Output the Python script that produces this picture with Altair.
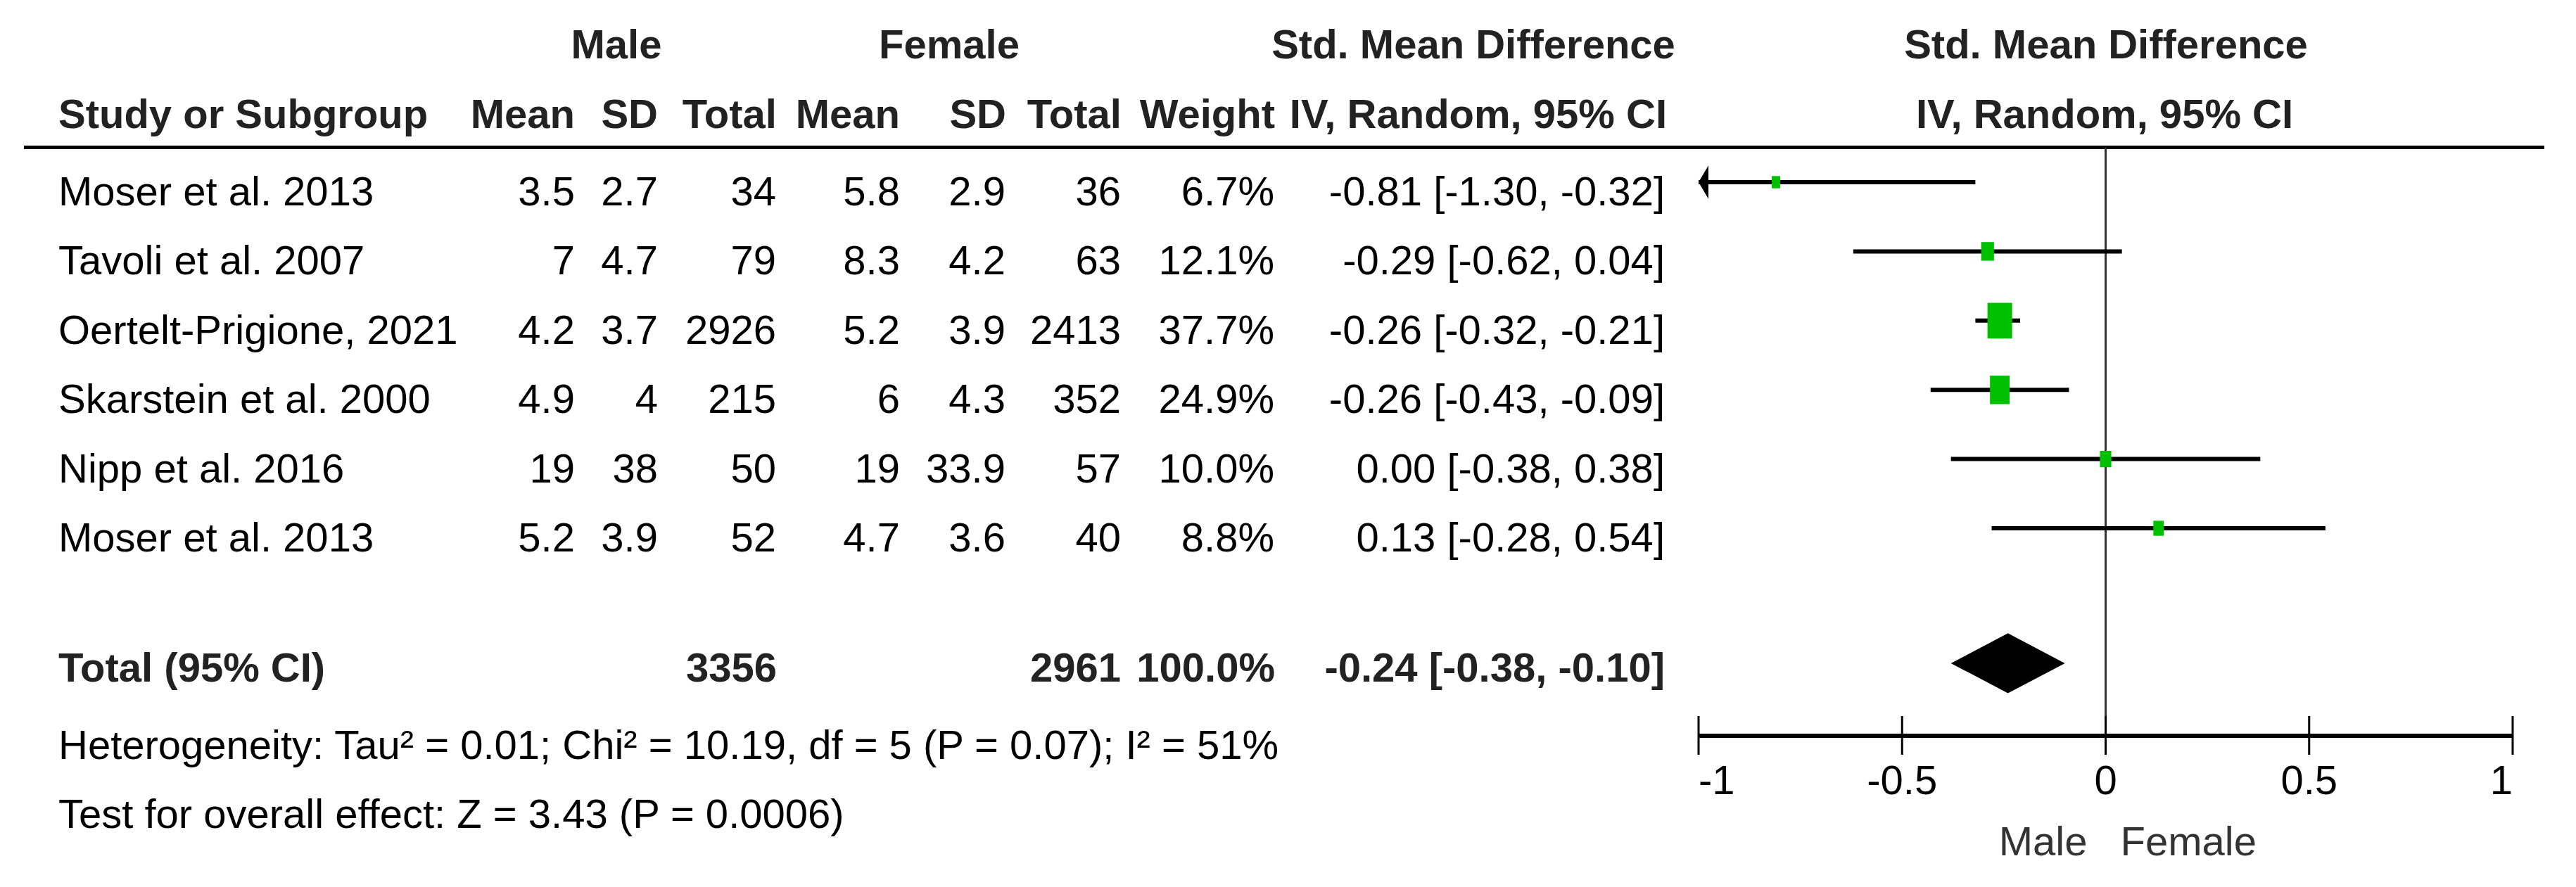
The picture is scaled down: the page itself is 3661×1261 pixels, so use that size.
import altair as alt
import pandas as pd

# ---------------- data ----------------
studies = ["Moser et al. 2013", "Tavoli et al. 2007", "Oertelt-Prigione, 2021",
           "Skarstein et al. 2000", "Nipp et al. 2016", "Moser et al. 2013"]
male_mean = [3.5, 7, 4.2, 4.9, 19, 5.2]
male_sd = [2.7, 4.7, 3.7, 4, 38, 3.9]
male_total = [34, 79, 2926, 215, 50, 52]
female_mean = [5.8, 8.3, 5.2, 6, 19, 4.7]
female_sd = [2.9, 4.2, 3.9, 4.3, 33.9, 3.6]
female_total = [36, 63, 2413, 352, 57, 40]
weight = [6.7, 12.1, 37.7, 24.9, 10.0, 8.8]
smd = [-0.81, -0.29, -0.26, -0.26, 0.00, 0.13]
ci_lo = [-1.30, -0.62, -0.32, -0.43, -0.38, -0.28]
ci_hi = [-0.32, 0.04, -0.21, -0.09, 0.38, 0.54]

total_label = "Total (95% CI)"
total_male = 3356
total_female = 2961
total_weight = 100.0
total_smd = -0.24
total_lo = -0.38
total_hi = -0.10
heterogeneity = "Heterogeneity: Tau\u00b2 = 0.01; Chi\u00b2 = 10.19, df = 5 (P = 0.07); I\u00b2 = 51%"
overall_effect = "Test for overall effect: Z = 3.43 (P = 0.0006)"

tick_values = [-1, -0.5, 0, 0.5, 1]
favours = ["Male", "Female"]

# ---------------- styling / layout ----------------
FONT = "Liberation Sans, Arial, sans-serif"
FS = 58
W, H = 3640, 1238
SH = 6               # raise baselines so text centres match the reference
TXT_DY = 39 - SH     # text baseline below the marker centre line
GREEN = "#00c000"
HDR = "#222222"


def g(v):
    return f"{v:g}"


def ci_text(e, lo, hi):
    return f"{e:.2f} [{lo:.2f}, {hi:.2f}]"


df = pd.DataFrame({
    "row": list(range(1, len(studies) + 1)),
    "study": studies,
    "mm": [g(v) for v in male_mean],
    "msd": [g(v) for v in male_sd],
    "mt": [g(v) for v in male_total],
    "fm": [g(v) for v in female_mean],
    "fsd": [g(v) for v in female_sd],
    "ft": [g(v) for v in female_total],
    "w": weight,
    "wt": [f"{v:.1f}%" for v in weight],
    "smd": smd,
    "lo": ci_lo,
    "hi": ci_hi,
    "ci": [ci_text(e, l, h) for e, l, h in zip(smd, ci_lo, ci_hi)],
})
df["lo_c"] = df["lo"].clip(lower=min(tick_values))

xscale = alt.Scale(domain=[min(tick_values), max(tick_values)], range=[2406, 3563], nice=False, zero=False)
yscale = alt.Scale(domain=[1, 6], range=[251, 743], nice=False, zero=False)


def X(f):
    return alt.X(f, type="quantitative", scale=xscale, axis=None)


def Y(f):
    return alt.Y(f, type="quantitative", scale=yscale, axis=None)


blank = pd.DataFrame({"k": [0]})
layers = []

# thick header rule
layers.append(alt.Chart(blank).mark_rule(color="black", strokeWidth=5).encode(
    x=alt.value(26), x2=alt.value(3608), y=alt.value(201.5)))

# line of no effect
layers.append(alt.Chart(pd.DataFrame({"x": [0]})).mark_rule(color="#333333", strokeWidth=3).encode(
    x=X("x"), y=alt.value(201.5), y2=alt.value(1038)))

# confidence intervals
layers.append(alt.Chart(df).mark_rule(color="black", strokeWidth=6).encode(
    x=X("lo_c"), x2=alt.X2("hi"), y=Y("row")))

# arrow where CI leaves the axis
ARROW = "M0,0L2,-3.4L2,3.4Z"
layers.append(alt.Chart(df).transform_filter(f"datum.lo < {min(tick_values)}").mark_point(
    shape=ARROW, filled=True, size=196, color="black", opacity=1, strokeWidth=0).encode(
    x=X("lo_c"), y=Y("row")))

# weighted boxes
RECT = "M-1,-1.45L1,-1.45L1,1.45L-1,1.45Z"
layers.append(alt.Chart(df).mark_point(shape=RECT, filled=True, color=GREEN, opacity=1, strokeWidth=0).encode(
    x=X("smd"), y=Y("row"),
    size=alt.Size("w", type="quantitative",
                  scale=alt.Scale(domain=[6.7, 37.7], range=[144, 1225], zero=False, nice=False),
                  legend=None)))

# pooled diamond
r_tot = 7.95
half = 0.432
dia = pd.DataFrame({"x": [total_lo, total_smd, total_hi],
                    "y": [r_tot, r_tot - half, r_tot],
                    "y2": [r_tot, r_tot + half, r_tot]})
layers.append(alt.Chart(dia).mark_area(color="black", orient="vertical", opacity=1).encode(
    x=X("x"), y=Y("y"), y2=alt.Y2("y2")))

# manual axis
tdf = pd.DataFrame({"t": tick_values, "lab": [g(v) for v in tick_values]})
adf = pd.DataFrame({"a": [min(tick_values)], "b": [max(tick_values)]})
layers.append(alt.Chart(adf).mark_rule(color="black", strokeWidth=6).encode(
    x=X("a"), x2=alt.X2("b"), y=alt.value(1038)))
layers.append(alt.Chart(tdf).mark_rule(color="black", strokeWidth=3).encode(
    x=X("t"), y=alt.value(1010), y2=alt.value(1065)))
lo_t, hi_t = min(tick_values), max(tick_values)
for flt, al in [(f"datum.t == {lo_t}", "left"), (f"datum.t == {hi_t}", "right"),
                (f"datum.t != {lo_t} && datum.t != {hi_t}", "center")]:
    layers.append(alt.Chart(tdf).transform_filter(flt).mark_text(
        align=al, baseline="alphabetic", font=FONT, fontSize=FS, color="black").encode(
        x=X("t"), y=alt.value(1127 - SH), text=alt.Text("lab", type="nominal")))

fav = pd.DataFrame({"x": [0]})
layers.append(alt.Chart(fav).mark_text(text=favours[0], align="right", dx=-26, baseline="alphabetic",
                                       font=FONT, fontSize=FS, color="#333333").encode(
    x=X("x"), y=alt.value(1214 - SH)))
layers.append(alt.Chart(fav).mark_text(text=favours[1], align="left", dx=21, baseline="alphabetic",
                                       font=FONT, fontSize=FS, color="#333333").encode(
    x=X("x"), y=alt.value(1214 - SH)))

# study table columns
cols = [("study", 75, "left"), ("mm", 809, "right"), ("msd", 927, "right"), ("mt", 1095, "right"),
        ("fm", 1271, "right"), ("fsd", 1421, "right"), ("ft", 1585, "right"),
        ("wt", 1803, "right"), ("ci", 2358, "right")]
for field, xp, al in cols:
    layers.append(alt.Chart(df).mark_text(align=al, baseline="alphabetic", dy=TXT_DY, font=FONT,
                                          fontSize=FS, color="black").encode(
        x=alt.value(xp), y=Y("row"), text=alt.Text(field, type="nominal")))


def fixed_text(t, xp, yp, al, bold=False, color="black"):
    return alt.Chart(blank).mark_text(text=t, align=al, baseline="alphabetic", font=FONT, fontSize=FS,
                                      fontWeight="bold" if bold else "normal", color=color).encode(
        x=alt.value(xp), y=alt.value(yp - SH))


# headers
headers1 = [("Male", 868, "center"), ("Female", 1341, "center"),
            ("Std. Mean Difference", 2086, "center"), ("Std. Mean Difference", 2985, "center")]
headers2 = [("Study or Subgroup", 75, "left"), ("Mean", 809, "right"), ("SD", 927, "right"),
            ("Total", 1096, "right"), ("Mean", 1271, "right"), ("SD", 1422, "right"),
            ("Total", 1586, "right"), ("Weight", 1804, "right"),
            ("IV, Random, 95% CI", 2361, "right"), ("IV, Random, 95% CI", 2983, "center")]
for t, xp, al in headers1:
    layers.append(fixed_text(t, xp, 81, al, bold=True, color=HDR))
for t, xp, al in headers2:
    layers.append(fixed_text(t, xp, 180, al, bold=True, color=HDR))

# total row
layers.append(fixed_text(total_label, 75, 967, "left", bold=True, color=HDR))
layers.append(fixed_text(g(total_male), 1096, 967, "right", bold=True, color=HDR))
layers.append(fixed_text(g(total_female), 1585, 967, "right", bold=True, color=HDR))
layers.append(fixed_text(f"{total_weight:.1f}%", 1804, 967, "right", bold=True, color=HDR))
layers.append(fixed_text(ci_text(total_smd, total_lo, total_hi), 2358, 967, "right", bold=True, color=HDR))

# footers
layers.append(fixed_text(heterogeneity, 75, 1077, "left"))
layers.append(fixed_text(overall_effect, 75, 1175, "left"))

chart = alt.layer(*layers).properties(
    width=W, height=H, autosize=alt.AutoSizeParams(type="none"), padding=0,
    background="white"
).configure_view(strokeWidth=0)

chart.save("out.html", embed_options={"renderer": "svg", "actions": False})
